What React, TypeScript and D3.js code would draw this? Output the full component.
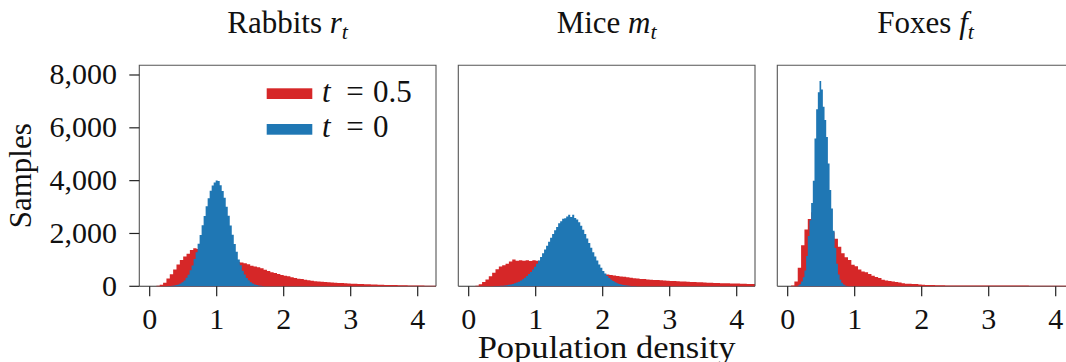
import React from "react";
import * as d3 from "d3";

// ---------- data ----------
const X_TICKS = [0, 1, 2, 3, 4];
const Y_TICKS = [0, 2000, 4000, 6000, 8000];
const X_DOMAIN: [number, number] = [-0.155, 4.273];
const Y_DOMAIN: [number, number] = [0, 8367];

const SPECIES = ["Rabbits", "Mice", "Foxes"];
const SYMBOLS = ["r", "m", "f"];
const LEGEND_T = ["0.5", "0"];

// t = 0.5 histograms (bin width 0.05 starting at 0)
const T05_START = 0;
const T05_BIN = 0.05;
const RABBITS_T05 = [
  0, 5, 20, 55, 135, 300, 460, 640, 830, 1000,
  1130, 1230, 1370, 1440, 1410, 1370, 1340, 1290, 1240, 1190,
  1140, 1090, 1045, 1005, 975, 945, 920, 900, 870, 835,
  780, 745, 720, 685, 630, 580, 530, 505, 470, 430,
  395, 378, 340, 318, 290, 272, 245, 232, 210, 195,
  180, 175, 160, 156, 145, 138, 128, 122, 112, 108,
  100, 95, 88, 85, 78, 76, 68, 66, 60, 56,
  52, 50, 46, 45, 41, 40, 37, 35, 31, 31,
  28, 27, 25, 23, 22, 21,
];
const MICE_T05 = [
  0, 5, 25, 80, 165, 260, 380, 510, 650, 750,
  800, 850, 940, 1010, 965, 990, 970, 985, 960, 990,
  970, 955, 930, 895, 860, 825, 790, 755, 720, 690,
  660, 630, 600, 580, 555, 535, 515, 500, 485, 470,
  460, 445, 430, 408, 392, 372, 357, 338, 320, 305,
  294, 280, 272, 260, 252, 242, 236, 226, 220, 210,
  205, 196, 192, 183, 179, 171, 167, 159, 156, 149,
  146, 139, 136, 129, 126, 119, 117, 111, 109, 104,
  102, 97, 95, 90, 88, 85,
];
const FOXES_T05 = [
  0, 30, 180, 700, 1550, 2150, 2550, 2800, 2900, 2850,
  2700, 2500, 2300, 2050, 1800, 1500, 1250, 1100, 1000, 820,
  760, 640, 560, 530, 470, 400, 350, 310, 250, 215,
  200, 180, 160, 140, 120, 100, 92, 88, 90, 70,
  55, 52, 50, 48, 42, 40, 38, 34, 33, 32,
  32, 31, 31, 30, 30, 30, 29, 29, 29, 28,
  28, 28, 28, 27, 27, 27, 27, 26, 26, 26,
  26, 26, 25, 25, 25, 25, 25, 25, 25, 24,
  24, 24, 24, 24, 24, 24,
];

// t = 0 histograms (finer bins)
const RABBITS_T0_START = 0.115;
const RABBITS_T0_BIN = 0.03;
const RABBITS_T0 = [
  1, 1, 2, 2, 4, 7, 10, 18, 27, 45,
  70, 102, 158, 220, 322, 437, 603, 788, 1031, 1292,
  1615, 1940, 2312, 2660, 3028, 3335, 3622, 3815, 3930, 4010,
  3985, 3830, 3607, 3348, 3012, 2675, 2298, 1952, 1601, 1305,
  1019, 796, 592, 445, 313, 227, 151, 106, 67, 45,
  27, 18, 10, 6, 4, 3, 2, 1, 1,
];
const MICE_T0_START = 0.285;
const MICE_T0_BIN = 0.03;
const MICE_T0 = [
  3, 4, 6, 8, 10, 14, 19, 25, 33, 43,
  55, 71, 90, 114, 143, 177, 219, 267, 323, 388,
  462, 546, 640, 743, 857, 979, 1110, 1248, 1391, 1539,
  1688, 1835, 1980, 2118, 2247, 2390, 2467, 2554, 2580, 2640,
  2710, 2620, 2705, 2590, 2533, 2424, 2293, 2145, 1983, 1813,
  1638, 1463, 1292, 1128, 973, 830, 700, 584, 481, 392,
  316, 252, 198, 154, 119, 90, 68, 50, 37, 27,
  19, 14, 10, 7, 5, 4, 3, 2, 2, 1, 1,
];
const FOXES_T0_START = 0.15;
const FOXES_T0_BIN = 0.025;
const FOXES_T0 = [
  30, 80, 180, 340, 600, 1150, 1900, 2500, 3150, 4000,
  5600, 6700, 7350, 7770, 7450, 6800, 6300, 5650, 4650, 3650,
  2950, 2100, 1450, 850, 450, 250, 130, 70, 35, 15,
  6, 3,
];

const RED = "#d62728";
const BLUE = "#1f77b4";

type Hist = { start: number; bin: number; counts: number[] };
const PANELS: { t05: Hist; t0: Hist }[] = [
  {
    t05: { start: T05_START, bin: T05_BIN, counts: RABBITS_T05 },
    t0: { start: RABBITS_T0_START, bin: RABBITS_T0_BIN, counts: RABBITS_T0 },
  },
  {
    t05: { start: T05_START, bin: T05_BIN, counts: MICE_T05 },
    t0: { start: MICE_T0_START, bin: MICE_T0_BIN, counts: MICE_T0 },
  },
  {
    t05: { start: T05_START, bin: T05_BIN, counts: FOXES_T05 },
    t0: { start: FOXES_T0_START, bin: FOXES_T0_BIN, counts: FOXES_T0 },
  },
];

// ---------- layout ----------
const W = 1066;
const H = 362;
const PANEL_LEFTS = [139.3, 458.3, 777.3];
const PANEL_W = 296.7;
const TOP = 65.3;
const BOTTOM = 286.3;
const FONT = "'Liberation Serif', 'DejaVu Serif', serif";
const TICK_FS = 30;
const LABEL_FS = 31;

function histPath(
  x: d3.ScaleLinear<number, number>,
  y: d3.ScaleLinear<number, number>,
  h: Hist
) {
  const pts: [number, number][] = h.counts.map((c, i) => [h.start + i * h.bin, c]);
  pts.push([h.start + h.counts.length * h.bin, h.counts[h.counts.length - 1]]);
  return (
    d3
      .area<[number, number]>()
      .x((d) => x(d[0]))
      .y0(y(0))
      .y1((d) => y(d[1]))
      .curve(d3.curveStepAfter)(pts) || ""
  );
}

const fmt = d3.format(",");
const txt = { fontFamily: FONT, fill: "#111" } as React.CSSProperties;

export default function App() {
  const y = d3.scaleLinear().domain(Y_DOMAIN).range([BOTTOM, TOP]);
  return (
    <svg
      width={W}
      height={H}
      style={{ position: "absolute", left: 0, top: 0, background: "#fff", fontFamily: FONT }}
    >
      <rect x={0} y={0} width={W} height={H} fill="#fff" />
      {PANELS.map((p, pi) => {
        const left = PANEL_LEFTS[pi];
        const right = left + PANEL_W;
        const x = d3.scaleLinear().domain(X_DOMAIN).range([left, right]);
        const cx = (left + right) / 2;
        return (
          <g key={pi}>
            <defs>
              <clipPath id={`clip${pi}`}>
                <rect x={left} y={TOP} width={PANEL_W} height={BOTTOM - TOP + 1} />
              </clipPath>
            </defs>
            <line x1={left} x2={right} y1={BOTTOM} y2={BOTTOM} stroke="#333" strokeWidth={1.1} />
            <g clipPath={`url(#clip${pi})`}>
              <path d={histPath(x, y, p.t05)} fill={RED} />
              <path d={histPath(x, y, p.t0)} fill={BLUE} />
            </g>
            <path
              d={`M${left},${BOTTOM}V${TOP}H${right}V${BOTTOM}`}
              fill="none"
              stroke="#555"
              strokeWidth={1.1}
            />
            {X_TICKS.map((t) => (
              <g key={t}>
                <line x1={x(t)} x2={x(t)} y1={BOTTOM} y2={BOTTOM + 10} stroke="#222" strokeWidth={1.2} />
                <text x={x(t)} y={328.5} textAnchor="middle" fontSize={TICK_FS} style={txt}>
                  {t}
                </text>
              </g>
            ))}
            <text x={cx} y={33.3} textAnchor="middle" fontSize={LABEL_FS} style={txt}>
              {SPECIES[pi]}{" "}
              <tspan fontStyle="italic">{SYMBOLS[pi]}</tspan>
              <tspan fontStyle="italic" fontSize={22} dy={6}>t</tspan>
            </text>
            {pi === 0 && (
              <g>
                {Y_TICKS.map((t) => (
                  <g key={t}>
                    <line x1={left - 10} x2={left} y1={y(t)} y2={y(t)} stroke="#222" strokeWidth={1.2} />
                    <text x={117} y={y(t) + 9.5} textAnchor="end" fontSize={TICK_FS} style={txt}>
                      {fmt(t)}
                    </text>
                  </g>
                ))}
                <text
                  transform={`translate(31, ${(TOP + BOTTOM) / 2}) rotate(-90)`}
                  textAnchor="middle"
                  fontSize={LABEL_FS}
                  style={txt}
                >
                  Samples
                </text>
                {[RED, BLUE].map((c, li) => {
                  const ly = li === 0 ? 88.3 : 124;
                  const by = li === 0 ? 101.7 : 137.3;
                  return (
                    <g key={li}>
                      <rect x={266.7} y={ly} width={45.6} height={10.7} fill={c} />
                      <text x={322} y={by} fontSize={LABEL_FS} fontStyle="italic" style={txt}>t</text>
                      <text x={355} y={by} fontSize={LABEL_FS} textAnchor="middle" style={txt}>=</text>
                      <text x={373} y={by} fontSize={LABEL_FS} style={txt}>{LEGEND_T[li]}</text>
                    </g>
                  );
                })}
              </g>
            )}
            {pi === 1 && (
              <text
                x={cx}
                y={358}
                textAnchor="middle"
                fontSize={LABEL_FS}
                style={txt}
                textLength={258}
                lengthAdjust="spacingAndGlyphs"
              >
                Population density
              </text>
            )}
          </g>
        );
      })}
    </svg>
  );
}
